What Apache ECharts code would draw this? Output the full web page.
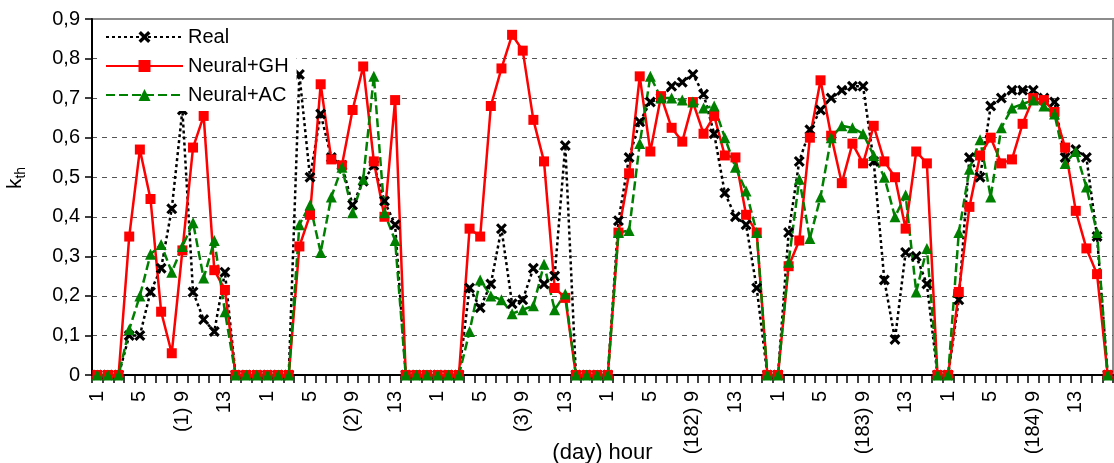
<!DOCTYPE html>
<html><head><meta charset="utf-8">
<script src="https://cdn.jsdelivr.net/npm/echarts@6/dist/echarts.min.js"></script>
<style>html,body{margin:0;padding:0;background:#fff}#c{width:1114px;height:463px}</style>
</head><body><div id="c"></div>
<script>
const dayLabels = ['1', '2', '3', '182', '183', '184'];
const hourLabels = ['1','2','3','4','5','6','7','8','9','10','11','12','13','14','15','16'];
const yTickLabels = ['0','0,1','0,2','0,3','0,4','0,5','0,6','0,7','0,8','0,9'];

const real = [
  0,0,0,0.10,0.10,0.21,0.27,0.42,0.67,0.21,0.14,0.11,0.26,0,0,0,
  0,0,0,0.76,0.50,0.66,0.55,0.53,0.43,0.49,0.53,0.44,0.38,0,0,0,
  0,0,0,0.22,0.17,0.23,0.37,0.18,0.19,0.27,0.23,0.25,0.58,0,0,0,
  0,0.39,0.55,0.64,0.69,0.70,0.73,0.74,0.76,0.71,0.61,0.46,0.40,0.38,0.22,0,
  0,0.36,0.54,0.62,0.67,0.70,0.72,0.73,0.73,0.54,0.24,0.09,0.31,0.30,0.23,0,
  0,0.19,0.55,0.50,0.68,0.70,0.72,0.72,0.72,0.70,0.69,0.55,0.57,0.55,0.35,0
];
const neuralGH = [
  0,0,0,0.35,0.57,0.445,0.16,0.055,0.315,0.575,0.655,0.265,0.215,0,0,0,
  0,0,0,0.325,0.405,0.735,0.545,0.53,0.67,0.78,0.54,0.40,0.695,0,0,0,
  0,0,0,0.37,0.35,0.68,0.775,0.86,0.82,0.645,0.54,0.22,0.195,0,0,0,
  0,0.36,0.51,0.755,0.565,0.705,0.625,0.59,0.69,0.61,0.655,0.555,0.55,0.405,0.36,0,
  0,0.275,0.34,0.60,0.745,0.605,0.485,0.585,0.535,0.63,0.54,0.50,0.37,0.565,0.535,0,
  0,0.21,0.425,0.555,0.60,0.535,0.545,0.635,0.70,0.695,0.665,0.575,0.415,0.32,0.255,0
];
const neuralAC = [
  0,0,0,0.115,0.20,0.305,0.33,0.26,0.325,0.385,0.245,0.34,0.16,0,0,0,
  0,0,0,0.38,0.43,0.31,0.45,0.525,0.41,0.495,0.755,0.41,0.34,0,0,0,
  0,0,0,0.11,0.24,0.20,0.19,0.155,0.165,0.175,0.28,0.165,0.205,0,0,0,
  0,0.36,0.365,0.585,0.755,0.70,0.70,0.695,0.69,0.675,0.68,0.60,0.525,0.465,0.36,0,
  0,0.285,0.495,0.345,0.45,0.60,0.63,0.625,0.61,0.555,0.50,0.40,0.455,0.21,0.32,0,
  0,0.36,0.52,0.595,0.45,0.625,0.675,0.685,0.695,0.68,0.66,0.535,0.565,0.475,0.36,0
];

const categories = [];
dayLabels.forEach(function (d) {
  hourLabels.forEach(function (h) {
    categories.push(h === '9' ? '(' + d + ') 9' : h);
  });
});

const FONT = 'Liberation Sans, Arial, sans-serif';
const crossPath = 'path://M2,0L5,3L8,0L10,2L7,5L10,8L8,10L5,7L2,10L0,8L3,5L0,2Z';

const chart = echarts.init(document.getElementById('c'), null, {renderer: 'canvas'});
chart.setOption({
  animation: false,
  backgroundColor: '#fff',
  textStyle: {fontFamily: FONT, color: '#000'},
  grid: {left: 92, right: 1, top: 19, bottom: 88, show: true, borderColor: '#8c8c8c', borderWidth: 2,
    backgroundColor: 'transparent', outerBoundsMode: 'none', containLabel: false},
  legend: {
    orient: 'vertical', left: 97, top: 23, itemWidth: 77, itemHeight: 15, itemGap: 9,
    backgroundColor: '#fff', padding: [4, 8, 6, 8],
    textStyle: {fontSize: 20, color: '#000', fontFamily: FONT},
    data: ['Real', 'Neural+GH', 'Neural+AC']
  },
  xAxis: {
    type: 'category', data: categories, boundaryGap: true,
    axisLine: {lineStyle: {color: '#000', width: 2}},
    axisTick: {show: true, interval: 0, length: 8, lineStyle: {color: '#000', width: 1.5}},
    axisLabel: {interval: 3, rotate: 90, fontSize: 20, color: '#000', margin: 16, fontFamily: FONT},
    name: '(day) hour', nameLocation: 'middle', nameGap: 67, nameMoveOverlap: false,
    nameTextStyle: {fontSize: 22, color: '#000', fontFamily: FONT}
  },
  yAxis: {
    type: 'value', min: 0, max: 0.9, interval: 0.1,
    axisLine: {show: true, lineStyle: {color: '#000', width: 2}},
    axisTick: {show: true, length: 7, lineStyle: {color: '#000', width: 1.5}},
    axisLabel: {fontSize: 20, color: '#000', margin: 12, fontFamily: FONT,
      formatter: function (v) { return yTickLabels[Math.round(v * 10)]; }},
    splitLine: {show: true, showMaxLine: false, showMinLine: false, lineStyle: {color: '#555', width: 1, type: [5, 5]}},
    name: '{k|k}{s|th}', nameLocation: 'middle', nameGap: 64, nameMoveOverlap: false,
    nameTextStyle: {
      padding: [0, 0, 0, 38],
      rich: {
        k: {fontSize: 21, fontFamily: FONT, color: '#000', lineHeight: 26},
        s: {fontSize: 14, fontFamily: FONT, color: '#000', verticalAlign: 'bottom', lineHeight: 14}
      }
    }
  },
  series: [
    {name: 'Real', type: 'line', data: real, showAllSymbol: true,
      symbol: crossPath, symbolSize: 11,
      itemStyle: {color: '#000'}, lineStyle: {color: '#000', width: 2.5, type: [3, 3]}},
    {name: 'Neural+GH', type: 'line', data: neuralGH, showAllSymbol: true,
      symbol: 'rect', symbolSize: 10,
      itemStyle: {color: '#ff0000'}, lineStyle: {color: '#ff0000', width: 2.5}},
    {name: 'Neural+AC', type: 'line', data: neuralAC, showAllSymbol: true,
      symbol: 'triangle', symbolSize: 11,
      itemStyle: {color: '#008000'}, lineStyle: {color: '#008000', width: 2.5, type: [9, 4]}}
  ]
});
</script>
</body></html>
